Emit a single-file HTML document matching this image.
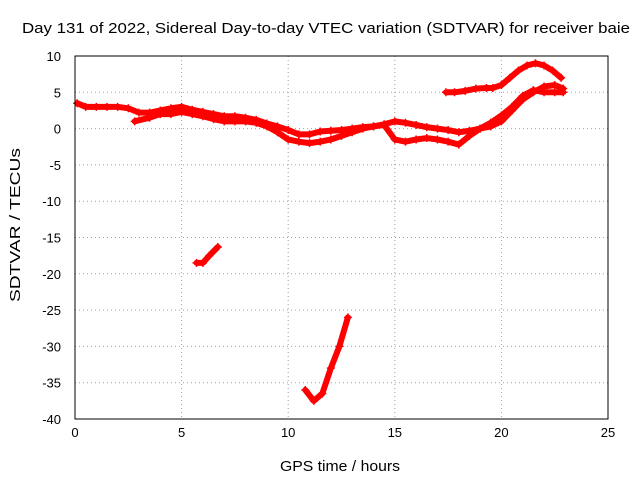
<!DOCTYPE html>
<html><head><meta charset="utf-8"><style>
body{margin:0;background:#fff}
svg{display:block;font-family:"Liberation Sans",sans-serif}
</style></head><body>
<svg id="c" width="640" height="480"></svg>
<script>
const xTicks=[0,5,10,15,20,25];
const yTicks=[10,5,0,-5,-10,-15,-20,-25,-30,-35,-40];
const upperBandT=[0.1,0.5,1,1.5,2,2.5,3,3.5,4,4.5,5,5.5,6,6.5,7,7.5,8,8.5,9,9.5,10,10.5,11,11.5,12,12.5,13,13.5,14,14.5,15,15.5,16,16.5,17,17.5,18,18.5,19,19.5,20,20.5,21,21.5,22,22.5,22.9];
const upperBandV=[3.5,3,3,3,3,2.8,2.2,2.2,2.5,2.8,3,2.6,2.3,2,1.7,1.7,1.5,1.2,0.7,0.3,-0.2,-0.8,-0.8,-0.4,-0.3,-0.2,0,0.2,0.3,0.6,1,0.8,0.5,0.2,0,-0.2,-0.5,-0.3,0,0.3,1,2.5,4,5,5.8,6,5.5];
const lowerBandT=[2.8,3.5,4,4.5,5,5.5,6,6.5,7,7.5,8,8.5,9,9.5,10,10.5,11,11.5,12,12.5,13,13.5,14,14.5,15,15.5,16,16.5,17,17.5,18,18.5,19,19.5,20,20.5,21,21.5,22,22.5,22.9];
const lowerBandV=[1,1.5,2,2,2.3,2,1.7,1.3,1,1,1,0.8,0.3,-0.5,-1.5,-1.8,-2,-1.8,-1.5,-1,-0.5,0,0.3,0.5,-1.5,-1.8,-1.5,-1.3,-1.5,-1.8,-2.2,-1,0,0.8,1.8,3,4.5,5.3,5,5,5];
const topRightT=[17.4,17.8,18.3,18.8,19.3,19.6,20,20.4,20.8,21.2,21.6,22,22.4,22.8];
const topRightV=[5,5,5.2,5.5,5.6,5.6,6,7,8,8.7,9,8.7,8,7];
const dipAT=[5.7,6,6.3,6.7];
const dipAV=[-18.5,-18.5,-17.5,-16.3];
const dipBT=[10.8,11.2,11.6,12,12.4,12.8];
const dipBV=[-36,-37.5,-36.5,-33,-30,-26];
const series=[[upperBandT,upperBandV],[lowerBandT,lowerBandV],[topRightT,topRightV],[dipAT,dipAV],[dipBT,dipBV]];
const X0=75,X1=608,Y0=56,Y1=419;
const sx=t=>X0+t/25*(X1-X0);
const sy=v=>Y0+(10-v)/50*(Y1-Y0);
const svg=document.getElementById('c');const NS='http://www.w3.org/2000/svg';
function mk(tag,attrs,parent){const e=document.createElementNS(NS,tag);for(const k in attrs)e.setAttribute(k,attrs[k]);(parent||svg).appendChild(e);return e;}
function txt(x,y,s,anchor,extra){const e=mk('text',Object.assign({x:x,y:y,'font-size':13,'text-anchor':anchor,fill:'#000'},extra||{}));e.textContent=s;return e;}
xTicks.forEach(t=>{const x=sx(t);
 if(t>0&&t<25){const g=mk('line',{x1:x,x2:x,y1:Y0,y2:Y1,stroke:'#a0a0a0','stroke-dasharray':'1,3'});}
 const l=txt(x,437,String(t),'middle');});
yTicks.forEach(v=>{const y=sy(v);
 if(v<10&&v>-40){const g=mk('line',{x1:X0,x2:X1,y1:y,y2:y,stroke:'#a0a0a0','stroke-dasharray':'1,3'});}
 const l=txt(61,y+5,String(v),'end');});
series.forEach(([T,V])=>{
 const pts=T.map((t,i)=>sx(t)+','+sy(V[i])).join(' ');
 const p=mk('polyline',{points:pts,fill:'none',stroke:'#ff0000','stroke-width':6,'stroke-linejoin':'round','stroke-linecap':'round'});
 
 T.forEach((t,i)=>{const x=sx(t),y=sy(V[i]);
  const m=mk('path',{d:`M${x-4},${y}H${x+4}M${x},${y-4}V${y+4}`,stroke:'#ff0000','stroke-width':1.5});
  });
});
const b=mk('rect',{x:X0,y:Y0,width:X1-X0,height:Y1-Y0,fill:'none',stroke:'#000'});

const ti=txt(22,33,'Day 131 of 2022, Sidereal Day-to-day VTEC variation (SDTVAR) for receiver baie','start',{'font-size':15,textLength:608,lengthAdjust:'spacingAndGlyphs'});

const xl=txt(280,471,'GPS time / hours','start',{'font-size':15,textLength:120,lengthAdjust:'spacingAndGlyphs'});

const yl=txt(0,0,'SDTVAR / TECUs','middle',{'font-size':15,textLength:154,lengthAdjust:'spacingAndGlyphs',transform:'translate(20,225) rotate(-90)'});

</script>
</body></html>
